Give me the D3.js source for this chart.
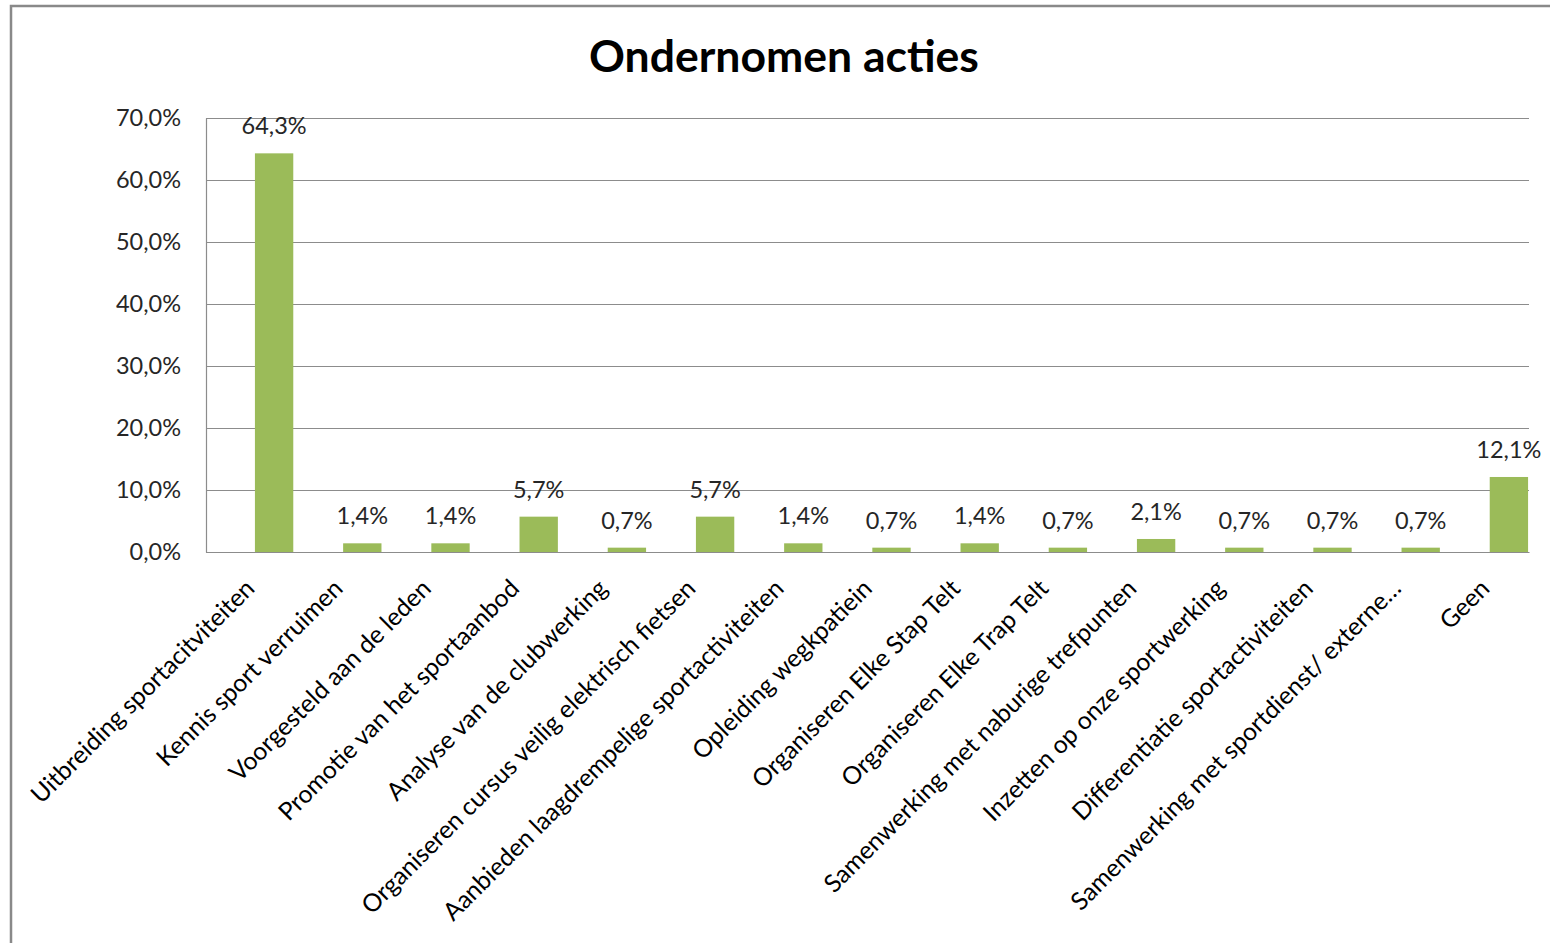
<!DOCTYPE html>
<html>
<head>
<meta charset="utf-8">
<script src="https://cdn.jsdelivr.net/npm/d3@7"></script>
<style>
  body { margin: 0; background: #fff; }
  text { font-family: Lato, "Open Sans", sans-serif; }
</style>
</head>
<body>
<div id="chart"></div>
<script>
var categories = [
  "Uitbreiding sportacitviteiten",
  "Kennis sport verruimen",
  "Voorgesteld aan de leden",
  "Promotie van het sportaanbod",
  "Analyse van de clubwerking",
  "Organiseren cursus veilig elektrisch fietsen",
  "Aanbieden laagdrempelige sportactiviteiten",
  "Opleiding wegkpatiein",
  "Organiseren Elke Stap Telt",
  "Organiseren Elke Trap Telt",
  "Samenwerking met naburige trefpunten",
  "Inzetten op onze sportwerking",
  "Differentiatie sportactiviteiten",
  "Samenwerking met sportdienst/ externe\u2026",
  "Geen"
];
var values = [64.3, 1.4, 1.4, 5.7, 0.7, 5.7, 1.4, 0.7, 1.4, 0.7, 2.1, 0.7, 0.7, 0.7, 12.1];
var yTicks = [0, 10, 20, 30, 40, 50, 60, 70];

var W = 1550, H = 943;
var margin = {top: 118, right: 21, bottom: 391, left: 206};
var width = W - margin.left - margin.right;
var height = H - margin.top - margin.bottom;
var barOffset = 24;   // bars sit a bit right of the category centre

function fmt(v) { return v.toFixed(1).replace(".", ",") + "%"; }

var svg = d3.select("#chart").append("svg")
  .attr("width", W)
  .attr("height", H);

// chart border (runs past the right and bottom edge)
svg.append("rect")
  .attr("x", 11).attr("y", 6)
  .attr("width", 1600).attr("height", 1000)
  .attr("fill", "#fff")
  .attr("stroke", "#898989")
  .attr("stroke-width", 2.5);

svg.append("text")
  .attr("x", 784)
  .attr("y", 72)
  .attr("text-anchor", "middle")
  .style("font-size", "44.5px")
  .style("font-weight", "bold")
  .attr("fill", "#000")
  .text("Ondernomen acties");

var g = svg.append("g")
  .attr("transform", "translate(" + margin.left + "," + margin.top + ")");

var x = d3.scaleBand().domain(categories).range([0, width]).padding(0);
var y = d3.scaleLinear().domain([0, 70]).range([height, 0]);
var barW = x.bandwidth() / 2.3;

// gridlines
g.append("g")
  .selectAll("line")
  .data(yTicks)
  .join("line")
  .attr("x1", 0).attr("x2", width)
  .attr("y1", d => Math.round(y(d)) + 0.5).attr("y2", d => Math.round(y(d)) + 0.5)
  .attr("stroke", "#8c8c8c")
  .attr("stroke-width", 1.2);

// y axis
var yAxis = g.append("g")
  .call(d3.axisLeft(y).tickValues(yTicks).tickSize(0).tickPadding(25).tickFormat(fmt));
yAxis.select(".domain").attr("stroke", "#8c8c8c").attr("stroke-width", 1.2);
yAxis.selectAll("text")
  .style("font-size", "23.5px")
  .attr("fill", "#262626");

// bars
g.selectAll(".bar")
  .data(values)
  .join("rect")
  .attr("class", "bar")
  .attr("x", (d, i) => x(categories[i]) + x.bandwidth() / 2 + barOffset - barW / 2)
  .attr("y", d => y(d))
  .attr("width", barW)
  .attr("height", d => height - y(d))
  .attr("fill", "#9bbb59");

// data labels
g.selectAll(".lbl")
  .data(values)
  .join("text")
  .attr("class", "lbl")
  .attr("x", (d, i) => x(categories[i]) + x.bandwidth() / 2 + barOffset)
  .attr("y", d => y(d) - 19)
  .attr("text-anchor", "middle")
  .style("font-size", "23.5px")
  .attr("fill", "#262626")
  .text(fmt);

// x axis with rotated labels
var xAxis = g.append("g")
  .attr("transform", "translate(0," + height + ")")
  .call(d3.axisBottom(x).tickSize(0).tickFormat(""));
xAxis.select(".domain").attr("stroke", "#8c8c8c").attr("stroke-width", 1.2);

g.append("g")
  .selectAll("text")
  .data(categories)
  .join("text")
  .attr("transform", d => "translate(" + (x(d) + x.bandwidth() / 2 + 6) + "," + (height + 38) + ") rotate(-45)")
  .attr("text-anchor", "end")
  .style("font-size", "24.7px")
  .attr("fill", "#000")
  .text(d => d);
</script>
</body>
</html>
